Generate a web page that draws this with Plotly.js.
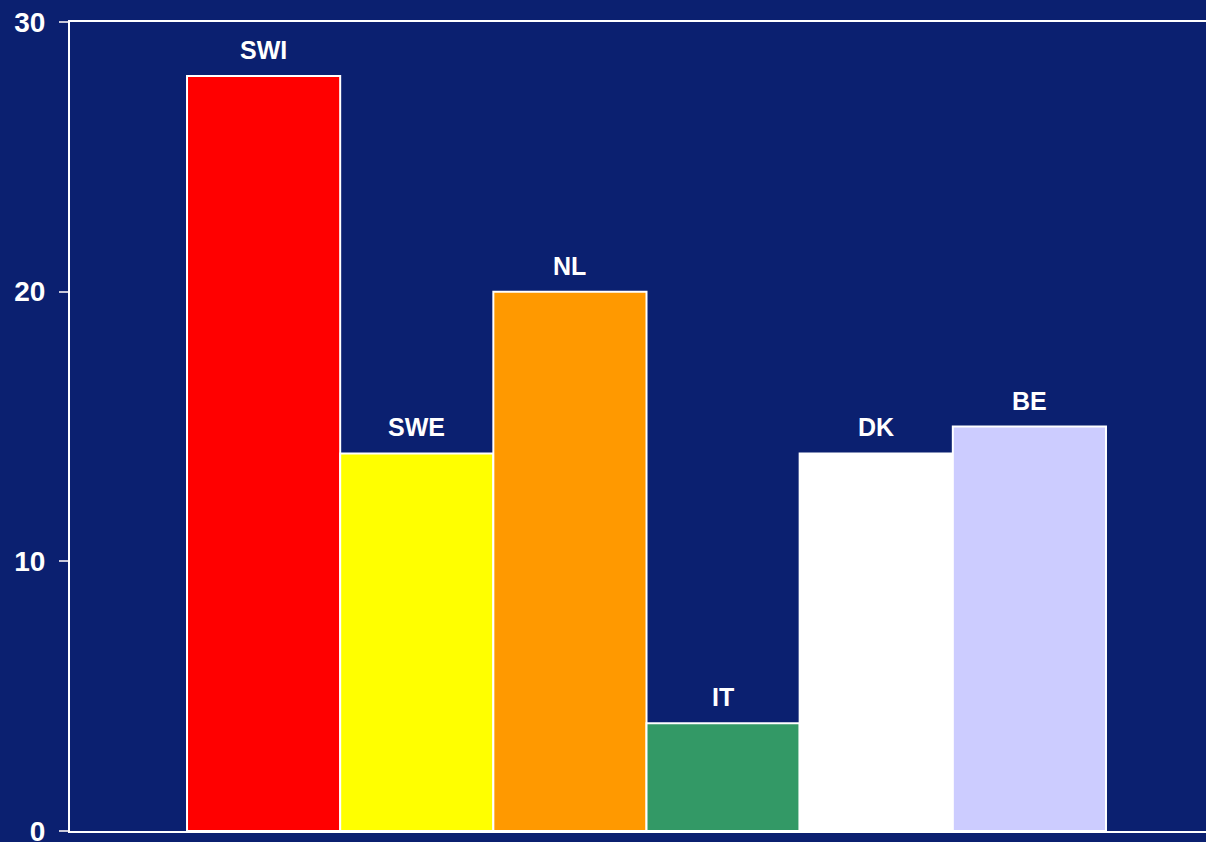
<!DOCTYPE html>
<html><head><meta charset="utf-8">
<script src="https://cdn.plot.ly/plotly-3.0.1.min.js"></script>
<style>html,body{margin:0;padding:0;background:#0B2070;}</style>
</head><body>
<div id="chart" style="width:1206px;height:842px;"></div>
<script>
const categories = ["SWI", "SWE", "NL", "IT", "DK", "BE"];
const values = [28, 14, 20, 4, 14, 15];
const colors = ["#FF0000", "#FFFF00", "#FF9900", "#339966", "#FFFFFF", "#CCCCFF"];
const yTicks = [0, 10, 20, 30];

const xs = categories.map((c, i) => i);
const trace = {
  type: "bar", x: xs, y: values, width: 1,
  marker: {color: colors, line: {color: "#FFFFFF", width: 2}},
  hoverinfo: "skip"
};
const annotations = categories.map((c, i) => ({
  x: i, y: values[i], xref: "x", yref: "y", text: "<b>" + c + "</b>",
  showarrow: false, yanchor: "bottom", yshift: 10,
  font: {family: "Liberation Sans, Arial", size: 25, color: "#FFFFFF"}
}));
const layout = {
  width: 1206, height: 842,
  paper_bgcolor: "#0B2070", plot_bgcolor: "#0B2070",
  margin: {l: 70, r: 0, t: 22, b: 11},
  bargap: 0, showlegend: false,
  font: {family: "Liberation Sans, Arial", color: "#FFFFFF"},
  xaxis: {range: [-1.264, 6.153], showticklabels: false, ticks: "", showgrid: false,
          zeroline: false, showline: true, linecolor: "#FFFFFF", linewidth: 2, mirror: true, fixedrange: true},
  yaxis: {range: [0, 30], tickvals: yTicks, ticktext: yTicks.map(v => "<b>" + v + "</b>"),
          ticks: "outside", ticklen: 9, tickwidth: 2, tickcolor: "#C8C8D8", ticklabelstandoff: 8,
          ticklabeloverflow: "allow",
          showgrid: false, zeroline: false, showline: true, linecolor: "#FFFFFF", linewidth: 2,
          tickfont: {family: "Liberation Sans, Arial", size: 28, color: "#FFFFFF"}, fixedrange: true},
  annotations: annotations
};
Plotly.newPlot("chart", [trace], layout, {displayModeBar: false, staticPlot: true});
</script>
</body></html>
